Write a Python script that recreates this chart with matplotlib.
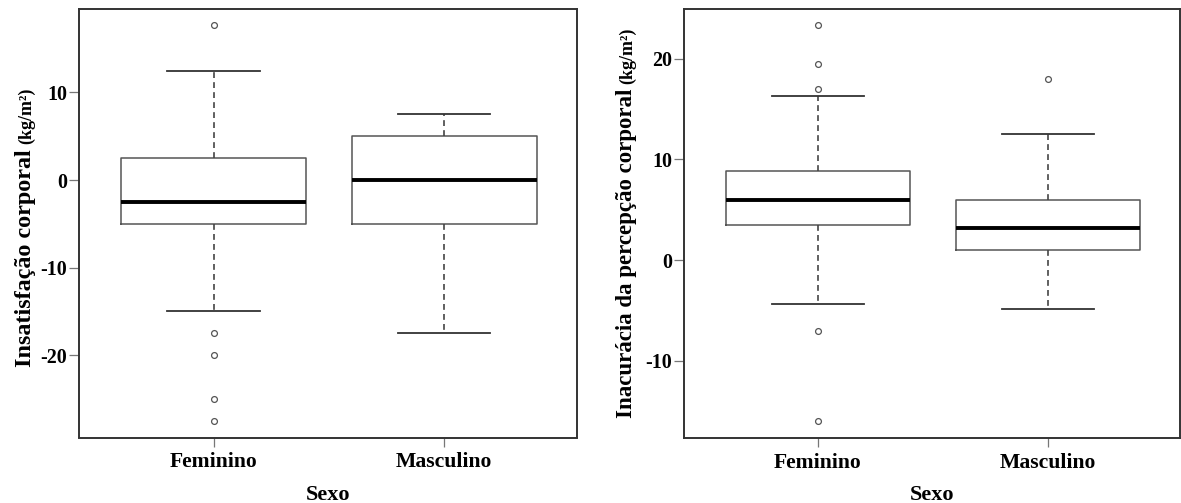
import matplotlib
matplotlib.use("Agg")
import matplotlib.pyplot as plt

# ---------------- data ----------------
categories = ["Feminino", "Masculino"]

# Panel 1: Insatisfação corporal (kg/m²)
ins_median = [-2.5, 0.0]
ins_q1 = [-5.0, -5.0]
ins_q3 = [2.5, 5.0]
ins_whislo = [-15.0, -17.5]
ins_whishi = [12.5, 7.5]
ins_fliers = [[17.7, -17.5, -20.0, -25.0, -27.5], []]

# Panel 2: Inacurácia da percepção corporal (kg/m²)
ina_median = [6.0, 3.2]
ina_q1 = [3.5, 1.0]
ina_q3 = [8.8, 6.0]
ina_whislo = [-4.4, -4.9]
ina_whishi = [16.3, 12.5]
ina_fliers = [[23.3, 19.5, 17.0, -7.0, -16.0], [18.0]]

ins_yticks = [-20, -10, 0, 10]
ina_yticks = [-10, 0, 10, 20]

# ---------------- style ----------------
SERIF = ["Liberation Serif", "DejaVu Serif"]
plt.rcParams["font.family"] = SERIF
plt.rcParams["font.weight"] = "bold"

W, H = 1181, 503
fig = plt.figure(figsize=(W / 100, H / 100), dpi=100)


def px_rect(x0, x1, y0, y1):
    return [x0 / W, 1 - y1 / H, (x1 - x0) / W, (y1 - y0) / H]


def make_stats(med, q1, q3, lo, hi, fl):
    out = []
    for i in range(len(med)):
        out.append(dict(med=med[i], q1=q1[i], q3=q3[i], whislo=lo[i],
                        whishi=hi[i], fliers=fl[i], label=categories[i]))
    return out


def draw_panel(ax, stats, ylim, yticks):
    ax.bxp(stats, positions=[1, 2], widths=0.8, capwidths=0.4,
           boxprops=dict(color="#555555", linewidth=1.1),
           whiskerprops=dict(color="#444444", linewidth=1.2,
                             linestyle=(0, (3.5, 2.5))),
           capprops=dict(color="#333333", linewidth=1.3),
           medianprops=dict(color="black", linewidth=2.8,
                            solid_capstyle="butt"),
           flierprops=dict(marker="o", markersize=4.2,
                           markerfacecolor="white",
                           markeredgecolor="#555555",
                           markeredgewidth=0.9, linestyle="none"))
    ax.set_xlim(0.417, 2.575)
    ax.set_ylim(*ylim)
    ax.set_yticks(yticks)
    ax.set_yticklabels([str(t) for t in yticks], fontsize=14.4,
                       fontweight="bold")
    ax.set_xticks([1, 2])
    ax.set_xticklabels(categories, fontsize=15.6, fontweight="bold")
    ax.tick_params(axis="y", length=7, width=0.9, color="#777777", pad=1.5)
    ax.tick_params(axis="x", length=6.5, width=0.9, color="#777777", pad=4)
    for s in ax.spines.values():
        s.set_color("#333333")
        s.set_linewidth(1.4)


ax1 = fig.add_axes(px_rect(79, 577, 9.3, 437.5))
draw_panel(ax1, make_stats(ins_median, ins_q1, ins_q3, ins_whislo,
                           ins_whishi, ins_fliers),
           (-29.4, 19.5), ins_yticks)

ax2 = fig.add_axes(px_rect(684, 1180, 9.3, 438.3))
draw_panel(ax2, make_stats(ina_median, ina_q1, ina_q3, ina_whislo,
                           ina_whishi, ina_fliers),
           (-17.7, 24.9), ina_yticks)

# x labels
fig.text((79 + 577) / 2 / W, 1 - 500 / H, "Sexo", fontsize=16,
         fontweight="bold", ha="center", va="baseline")
fig.text((684 + 1180) / 2 / W, 1 - 500 / H, "Sexo", fontsize=16,
         fontweight="bold", ha="center", va="baseline")

# y labels (main text + smaller unit)
fig.canvas.draw()
renderer = fig.canvas.get_renderer()


def ylabel_pair(x_base, y_start, main, unit, size_main, size_unit):
    t = fig.text(x_base / W, 1 - y_start / H, main, fontsize=size_main,
                 fontweight="bold", rotation=90, rotation_mode="anchor",
                 ha="left", va="baseline")
    bb = t.get_window_extent(renderer)
    top_px = bb.y1  # display coords (from bottom)
    fig.text(x_base / W, (top_px + 5) / H, unit, fontsize=size_unit,
             fontweight="bold", rotation=90, rotation_mode="anchor",
             ha="left", va="baseline")


ylabel_pair(30.7, 367, "Insatisfação corporal", "(kg/m²)", 17.4, 13)
ylabel_pair(632, 418, "Inacurácia da percepção corporal", "(kg/m²)", 16.5, 13)

fig.savefig("out.png", dpi=100)
